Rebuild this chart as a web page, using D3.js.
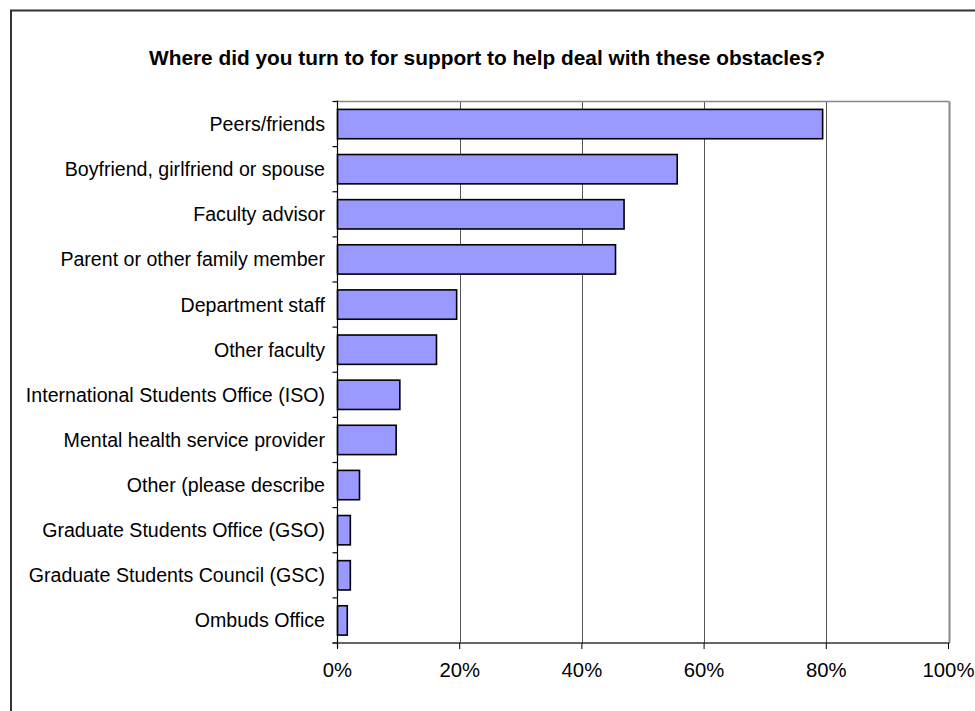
<!DOCTYPE html>
<html>
<head>
<meta charset="utf-8">
<script src="https://cdn.jsdelivr.net/npm/d3@7"></script>
<style>
  html, body { margin: 0; padding: 0; background: #fff; }
  svg { display: block; font-family: Arial, "Liberation Sans", sans-serif; }
</style>
</head>
<body>
<svg id="chart" width="975" height="711"></svg>
<script>
const title = "Where did you turn to for support to help deal with these obstacles?";
const categories = [
  "Peers/friends",
  "Boyfriend, girlfriend or spouse",
  "Faculty advisor",
  "Parent or other family member",
  "Department staff",
  "Other faculty",
  "International Students Office (ISO)",
  "Mental health service provider",
  "Other (please describe",
  "Graduate Students Office (GSO)",
  "Graduate Students Council (GSC)",
  "Ombuds Office"
];
const values = [0.794, 0.556, 0.469, 0.455, 0.195, 0.162, 0.102, 0.096, 0.036, 0.021, 0.021, 0.016];
const tickValues = [0, 0.2, 0.4, 0.6, 0.8, 1.0];

const svg = d3.select("#chart");
const pLeft = 337.5, pRight = 948.5, pTop = 101.5, pBottom = 643;

// outer frame
svg.append("rect")
  .attr("x", 11).attr("y", 10.5).attr("width", 975).attr("height", 720)
  .attr("fill", "none").attr("stroke", "#333").attr("stroke-width", 2);

svg.append("text")
  .attr("x", 487).attr("y", 65)
  .attr("text-anchor", "middle")
  .attr("font-weight", "bold").attr("font-size", 20.5)
  .attr("textLength", 676).attr("lengthAdjust", "spacingAndGlyphs")
  .attr("fill", "#000")
  .text(title);

const x = d3.scaleLinear().domain([0, 1]).range([pLeft, pRight]);
const y = d3.scaleBand().domain(categories).range([pTop, pBottom]).paddingInner(0.35).paddingOuter(0.175);

// gridlines
svg.append("g").selectAll("line").data(tickValues.slice(1))
  .join("line")
  .attr("x1", d => Math.round(x(d)) + 0.5).attr("x2", d => Math.round(x(d)) + 0.5)
  .attr("y1", pTop).attr("y2", pBottom)
  .attr("stroke", d => d === 1 ? "#888" : "#555").attr("stroke-width", d => d === 1 ? 2 : 1);

// top border
svg.append("line")
  .attr("x1", pLeft).attr("x2", pRight + 1).attr("y1", pTop).attr("y2", pTop)
  .attr("stroke", "#888").attr("stroke-width", 1.5);

// bars
svg.append("g").selectAll("rect").data(values)
  .join("rect")
  .attr("x", x(0))
  .attr("y", (d, i) => y(categories[i]))
  .attr("width", d => x(d) - x(0))
  .attr("height", y.bandwidth())
  .attr("fill", "#9999FF")
  .attr("stroke", "#000").attr("stroke-width", 1.6);

// left axis
const yAxisG = svg.append("g");
yAxisG.append("line").attr("x1", pLeft).attr("x2", pLeft).attr("y1", pTop - 1).attr("y2", pBottom + 5)
  .attr("stroke", "#000").attr("stroke-width", 1.2);
const boundaries = d3.range(categories.length + 1).map(i => pTop + i * (pBottom - pTop) / categories.length);
yAxisG.selectAll("line.tk").data(boundaries).join("line").attr("class", "tk")
  .attr("x1", pLeft - 5).attr("x2", pLeft).attr("y1", d => d).attr("y2", d => d)
  .attr("stroke", "#000").attr("stroke-width", 1.2);
yAxisG.selectAll("text").data(categories).join("text")
  .attr("x", 325).attr("y", d => y(d) + y.bandwidth() / 2)
  .attr("dy", "0.36em")
  .attr("text-anchor", "end").attr("font-size", 19.6).attr("fill", "#000")
  .text(d => d);

// bottom axis
const xAxisG = svg.append("g");
xAxisG.append("line").attr("x1", pLeft - 5).attr("x2", pRight + 1).attr("y1", pBottom).attr("y2", pBottom)
  .attr("stroke", "#333").attr("stroke-width", 1.5);
xAxisG.selectAll("line.tk").data(tickValues).join("line").attr("class", "tk")
  .attr("x1", d => x(d)).attr("x2", d => x(d)).attr("y1", pBottom).attr("y2", pBottom + 6)
  .attr("stroke", "#000").attr("stroke-width", 1);
xAxisG.selectAll("text").data(tickValues).join("text")
  .attr("x", d => x(d)).attr("y", 677)
  .attr("text-anchor", "middle").attr("font-size", 20.3).attr("fill", "#000")
  .text(d => d3.format(".0%")(d));
</script>
</body>
</html>
